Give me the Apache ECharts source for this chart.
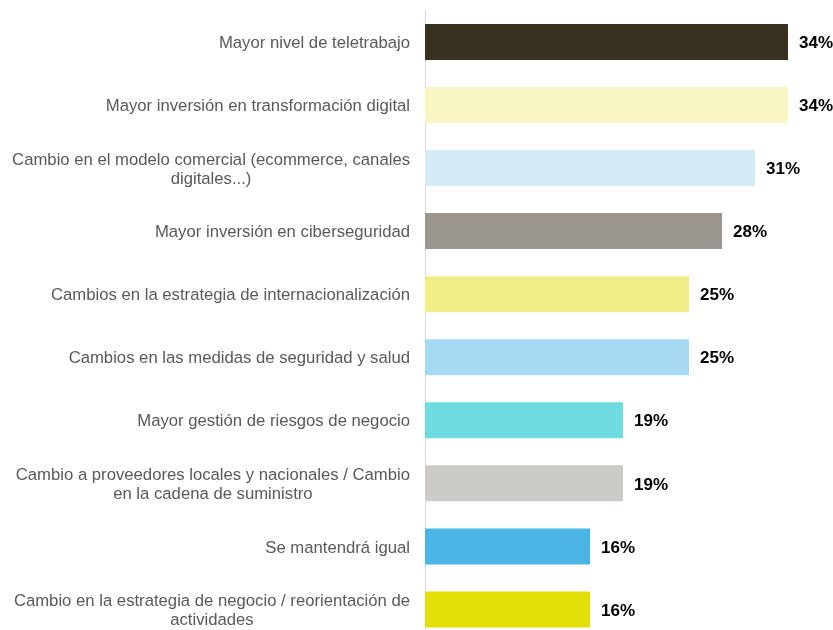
<!DOCTYPE html>
<html>
<head>
<meta charset="utf-8">
<title>Cambios</title>
<script src="https://cdn.jsdelivr.net/npm/echarts@6/dist/echarts.min.js"></script>
<style>
  html, body { margin: 0; padding: 0; background: #fff; overflow: hidden; }
  #chart { width: 833px; height: 641px; }
</style>
</head>
<body>
<div id="chart"></div>
<script>
// categorías (de arriba a abajo)
var categories = [
  'Mayor nivel de teletrabajo',
  'Mayor inversión en transformación digital',
  'Cambio en el modelo comercial (ecommerce, canales\ndigitales...)',
  'Mayor inversión en ciberseguridad',
  'Cambios en la estrategia de internacionalización',
  'Cambios en las medidas de seguridad y salud',
  'Mayor gestión de riesgos de negocio',
  'Cambio a proveedores locales y nacionales / Cambio\nen la cadena de suministro',
  'Se mantendrá igual',
  'Cambio en la estrategia de negocio / reorientación de\nactividades'
]
var values = [34, 34, 31, 28, 25, 25, 19, 19, 16, 16]
var colors = ['#393120', '#F7F6C2', '#D4EBF8', '#9A958E', '#F1EE87',
              '#A6DAF2', '#6DDBDF', '#CCCBC7', '#4DB4E6', '#E3DF08']

var chart = echarts.init(document.getElementById('chart'))

chart.setOption({
  animation: false,
  grid: {
    left: 425,
    width: 396,
    top: 10.4,
    bottom: 0
  },
  xAxis: {
    type: 'value',
    min: 1,
    max: 37,
    show: false
  },
  yAxis: {
    type: 'category',
    inverse: true,
    data: categories,
    axisTick: { show: false },
    axisLine: {
      lineStyle: { color: '#D9D9D9', width: 1 }
    },
    axisLabel: {
      margin: 15,
      padding: [3, 0, 0, 0],
      color: '#595959',
      fontFamily: 'Liberation Sans, Arial, sans-serif',
      fontSize: 16.7,
      lineHeight: 19,
      formatter: function (val) {
        return val.split('\n').map(function (l) { return '{c|' + l + '}' }).join('\n')
      },
      rich: {
        c: {
          align: 'center',
          color: '#595959',
          fontFamily: 'Liberation Sans, Arial, sans-serif',
          fontSize: 16.7,
          lineHeight: 19
        }
      }
    }
  },
  series: [{
    type: 'bar',
    barWidth: 36,
    data: values.map(function (v, i) {
      return { value: v, itemStyle: { color: colors[i] } }
    }),
    label: {
      show: true,
      position: 'right',
      distance: 11,
      offset: [0, 1.5],
      formatter: '{c}%',
      color: '#000',
      fontWeight: 'bold',
      fontFamily: 'Liberation Sans, Arial, sans-serif',
      fontSize: 17
    }
  }]
})
</script>
</body>
</html>
